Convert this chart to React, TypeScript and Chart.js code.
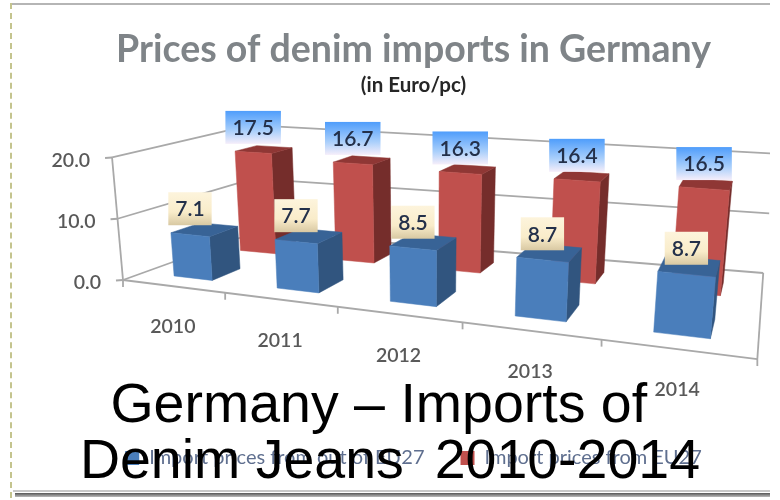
import React, { useEffect, useRef } from "react";
import { Chart, registerables } from "chart.js";

Chart.register(...registerables);

const categories = ["2010", "2011", "2012", "2013", "2014"];
const pricesOutsideEU = [7.1, 7.7, 8.5, 8.7, 8.7];
const pricesFromEU = [17.5, 16.7, 16.3, 16.4, 16.5];
const seriesNames = ["Import prices from out of EU27", "Import prices from EU27"];
const chartTitle = "Prices of denim imports in Germany";
const chartSubtitle = "(in Euro/pc)";
const overlayLines = ["Germany – Imports of ", "Denim Jeans  2010-2014"];

type P = [number, number];

// Projected floor of the 3D box: front-left, front-right, back-right, back-left
const FLOOR: P[] = [[123, 280], [757, 359], [763, 273], [256, 232]];
// Full-axis wall height on screen at the same four corners, and the point verticals converge to
const WALL_HEIGHT = [123, 148, 120, 107];
const VERTICAL_VANISH: P = [426, 3669];

function quadMap(q: P[]) {
  const [[x0, y0], [x1, y1], [x2, y2], [x3, y3]] = q;
  const dx1 = x1 - x2, dx2 = x3 - x2, dx3 = x0 - x1 + x2 - x3;
  const dy1 = y1 - y2, dy2 = y3 - y2, dy3 = y0 - y1 + y2 - y3;
  const den = dx1 * dy2 - dx2 * dy1;
  const g = (dx3 * dy2 - dx2 * dy3) / den;
  const h = (dx1 * dy3 - dx3 * dy1) / den;
  const a = x1 - x0 + g * x1, b = x3 - x0 + h * x3;
  const d = y1 - y0 + g * y1, e = y3 - y0 + h * y3;
  return (u: number, v: number): P => {
    const w = g * u + h * v + 1;
    return [(a * u + b * v + x0) / w, (d * u + e * v + y0) / w];
  };
}
const floorMap = quadMap(FLOOR);
const remapU = (u: number) => (1.131 * u) / (1 + 0.1306 * u);

function project(u: number, v: number, depth: number): P {
  const f = floorMap(remapU(u), depth);
  const inv = WALL_HEIGHT.map((h) => 1 / h);
  const invH =
    (1 - u) * (1 - depth) * inv[0] + u * (1 - depth) * inv[1] + u * depth * inv[2] + (1 - u) * depth * inv[3];
  const H = 1 / invH;
  const dx = f[0] - VERTICAL_VANISH[0], dy = f[1] - VERTICAL_VANISH[1];
  const len = Math.hypot(dx, dy);
  return [f[0] + (dx / len) * H * v, f[1] + (dy / len) * H * v];
}

const RIGHT_CLIP = 770;
const GRID = "#a9a9a9";
const TEXT = "#595959";
const LABEL_FONT = "Lato, sans-serif";

const ROWS = [
  { dataset: 0, near: 0.13, far: 0.33, front: "#4a7ebb", top: "#386396", side: "#31557f", labelTop: "#fdf4dc", labelMid: "#f9ecca", labelBottom: "#d8c8a2", labelDy: -26 },
  { dataset: 1, near: 0.62, far: 0.8, front: "#c0504d", top: "#8f3735", side: "#752d2b", labelTop: "#4f9dfb", labelMid: "#a9cffb", labelBottom: "#f6eefa", labelDy: -25 },
];

function poly(ctx: CanvasRenderingContext2D, pts: P[], fill: string) {
  ctx.beginPath();
  pts.forEach((p, i) => (i ? ctx.lineTo(p[0], p[1]) : ctx.moveTo(p[0], p[1])));
  ctx.closePath();
  ctx.fillStyle = fill;
  ctx.fill();
  ctx.strokeStyle = fill;
  ctx.lineWidth = 0.5;
  ctx.stroke();
}

function line(ctx: CanvasRenderingContext2D, a: P, b: P) {
  ctx.beginPath();
  ctx.moveTo(a[0], a[1]);
  ctx.lineTo(b[0], b[1]);
  ctx.stroke();
}

const perspective3D = {
  id: "perspective3D",
  beforeDatasetsDraw(chart: any) {
    const ctx: CanvasRenderingContext2D = chart.ctx;
    const area = chart.chartArea;
    const ys = chart.scales.y;
    const toU = (px: number) => (px - area.left) / (area.right - area.left);
    const toV = (py: number) => (area.bottom - py) / (area.bottom - area.top);

    ctx.save();
    ctx.strokeStyle = GRID;
    ctx.lineWidth = 1.8;
    ctx.save();
    ctx.beginPath();
    ctx.rect(0, 0, RIGHT_CLIP, 500);
    ctx.clip();
    ys.ticks.forEach((t: any) => {
      const v = toV(ys.getPixelForValue(t.value));
      const a = project(0, v, 0), b = project(0, v, 1), c = project(1, v, 1);
      line(ctx, a, b);
      line(ctx, b, c);
      line(ctx, a, [a[0] - 7, a[1] + 0.5]);
    });
    ctx.restore();
    const top = ys.ticks[ys.ticks.length - 1].value;
    line(ctx, project(0, 0, 0), project(0, toV(ys.getPixelForValue(top)), 0));
    line(ctx, project(0, 0, 0), project(1, 0, 0));
    line(ctx, project(1, 0, 0), project(1, 0, 1));
    categories.forEach((_, i) => {
      const p = project(i / categories.length, 0, 0);
      line(ctx, p, [p[0], p[1] + 7]);
    });
    const e = project(1, 0, 0);
    line(ctx, e, [e[0], e[1] + 7]);

    [...ROWS].reverse().forEach((row) => {
      const meta = chart.getDatasetMeta(row.dataset);
      meta.data.forEach((el: any) => {
        const u1 = toU(el.x - el.width / 2), u2 = toU(el.x + el.width / 2);
        const v = toV(el.y);
        const fbl = project(u1, 0, row.near), fbr = project(u2, 0, row.near);
        const ftl = project(u1, v, row.near), ftr = project(u2, v, row.near);
        const bbr = project(u2, 0, row.far), btl = project(u1, v, row.far), btr = project(u2, v, row.far);
        poly(ctx, [fbr, bbr, btr, ftr], row.side);
        poly(ctx, [ftl, ftr, btr, btl], row.top);
        poly(ctx, [fbl, fbr, ftr, ftl], row.front);
      });
    });
    ctx.restore();
    return false; // the flat bars are replaced by the projected ones
  },
  afterDraw(chart: any) {
    const ctx: CanvasRenderingContext2D = chart.ctx;
    const area = chart.chartArea;
    const xs = chart.scales.x;
    const ys = chart.scales.y;
    const toU = (px: number) => (px - area.left) / (area.right - area.left);
    const toV = (py: number) => (area.bottom - py) / (area.bottom - area.top);
    ctx.save();
    ctx.fillStyle = TEXT;
    ctx.font = `600 19.5px ${LABEL_FONT}`;
    ctx.textBaseline = "middle";
    ctx.textAlign = "right";
    ys.ticks.forEach((t: any) => {
      const p = project(0, toV(ys.getPixelForValue(t.value)), 0);
      ctx.fillText(t.value.toFixed(1), p[0] - 22, p[1] + 3);
    });
    ctx.textAlign = "center";
    categories.forEach((c, i) => {
      const p = project(toU(xs.getPixelForValue(i)), 0, 0);
      ctx.fillText(c, p[0], p[1] + 41);
    });
    ROWS.forEach((row) => {
      const meta = chart.getDatasetMeta(row.dataset);
      meta.data.forEach((el: any, i: number) => {
        const p = project(toU(el.x), toV(el.y), row.near);
        const value = (chart.data.datasets[row.dataset].data[i] as number).toFixed(1);
        ctx.font = `600 21px ${LABEL_FONT}`;
        const w = ctx.measureText(value).width + 14;
        const h = 33;
        const cy = p[1] + row.labelDy;
        const g = ctx.createLinearGradient(0, cy - h / 2, 0, cy + h / 2);
        g.addColorStop(0, row.labelTop);
        g.addColorStop(0.6, row.labelMid);
        g.addColorStop(1, row.labelBottom);
        ctx.fillStyle = g;
        ctx.fillRect(p[0] - w / 2, cy - h / 2, w, h);
        ctx.fillStyle = "#23304a";
        ctx.textAlign = "center";
        ctx.textBaseline = "middle";
        ctx.fillText(value, p[0], cy + 1);
      });
    });
    ctx.restore();
  },
};

export default function App() {
  const ref = useRef<HTMLCanvasElement>(null);
  useEffect(() => {
    const chart = new Chart(ref.current!, {
      type: "bar",
      data: {
        labels: categories,
        datasets: [
          { label: seriesNames[0], data: pricesOutsideEU, backgroundColor: "#4a7ebb" },
          { label: seriesNames[1], data: pricesFromEU, backgroundColor: "#c0504d" },
        ],
      },
      options: {
        animation: false,
        responsive: false,
        devicePixelRatio: 1,
        grouped: false,
        barPercentage: 0.38,
        categoryPercentage: 1,
        layout: { padding: { left: 47, right: 0, top: 27, bottom: 22 } },
        scales: {
          x: { display: false, offset: true },
          y: { display: false, min: 0, max: 20, ticks: { stepSize: 10 } },
        },
        plugins: {
          title: {
            display: true,
            text: chartTitle,
            color: "#7f8488",
            font: { family: LABEL_FONT, size: 37.5, weight: "bold" },
            padding: { top: 0, bottom: 1 },
          },
          subtitle: {
            display: true,
            text: chartSubtitle,
            color: "#262626",
            font: { family: LABEL_FONT, size: 20.5, weight: "bold" },
            padding: { top: 0, bottom: 10 },
          },
          legend: {
            position: "bottom",
            labels: {
              color: "#5f6f8f",
              boxWidth: 14,
              boxHeight: 14,
              padding: 36,
              font: { family: LABEL_FONT, size: 20 },
            },
          },
          tooltip: { enabled: false },
        },
      } as any,
      plugins: [perspective3D],
    });
    return () => chart.destroy();
  }, []);

  return (
    <div style={{ position: "absolute", left: 0, top: 0, width: 780, height: 500, background: "#fff", overflow: "hidden" }}>
      <canvas ref={ref} width={780} height={500} style={{ position: "absolute", left: 0, top: 0, width: 780, height: 500, filter: "blur(0.7px)" }} />
      <div style={{ position: "absolute", left: 11, top: 3, width: 759, height: 2, background: "#b5b5b5" }} />
      <div style={{ position: "absolute", left: 10, top: 3, height: 495, borderLeft: "2px dashed #c4c48e" }} />
      <div style={{ position: "absolute", left: 13, top: 490, width: 757, height: 2, background: "#c8c8c8" }} />
      <div style={{ position: "absolute", left: 15, top: 493, width: 755, height: 4, background: "linear-gradient(#555,#bbb)" }} />
      <div style={{ position: "absolute", left: 0, top: 374.5, width: 780, textAlign: "center", font: '55.5px/56px "Liberation Sans", Arial, sans-serif', color: "#000", whiteSpace: "pre" }}>
        {overlayLines.map((l, i) => (
          <div key={l} style={{ paddingRight: i === 0 ? 7 : 0 }}>{l}</div>
        ))}
      </div>
    </div>
  );
}
